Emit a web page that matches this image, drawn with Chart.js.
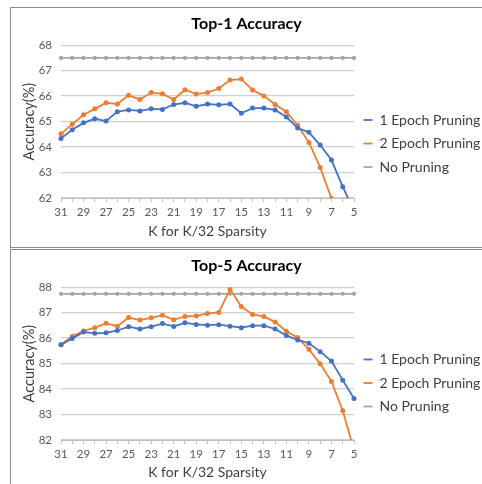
<!DOCTYPE html>
<html>
<head>
<meta charset="utf-8">
<script src="https://cdn.jsdelivr.net/npm/chart.js@4.4.0/dist/chart.umd.min.js"></script>
<style>
html, body { margin: 0; padding: 0; background: #fff; width: 482px; height: 484px; overflow: hidden; }
.box { position: absolute; left: 10px; width: 480px; border: 1px solid #8a8a8a; }
.box canvas { position: absolute; left: 0; top: 0; }
</style>
</head>
<body>
<div class="box" style="top:7px;height:239px"><canvas id="top1" width="471" height="239"></canvas></div>
<div class="box" style="top:249px;height:240px"><canvas id="top5" width="471" height="234"></canvas></div>
<script>
// K for K/32 sparsity
const kLabels = [31, 30, 29, 28, 27, 26, 25, 24, 23, 22, 21, 20, 19, 18, 17, 16, 15, 14, 13, 12, 11, 10, 9, 8, 7, 6, 5];

const top1Epoch1 = [64.34, 64.68, 64.95, 65.11, 65.02, 65.39, 65.46, 65.42, 65.50, 65.48, 65.67, 65.74, 65.60, 65.69,
  65.66, 65.69, 65.33, 65.53, 65.53, 65.46, 65.18, 64.75, 64.58, 64.08, 63.49, 62.44, 61.5];
const top1Epoch2 = [64.52, 64.90, 65.27, 65.50, 65.74, 65.69, 66.03, 65.87, 66.14, 66.09, 65.87, 66.25, 66.08, 66.14,
  66.30, 66.63, 66.67, 66.24, 66.01, 65.67, 65.39, 64.86, 64.18, 63.20, 61.98, 60.5, 58.5];
const top1None = [67.5, 67.5, 67.5, 67.5, 67.5, 67.5, 67.5, 67.5, 67.5, 67.5, 67.5, 67.5, 67.5, 67.5,
  67.5, 67.5, 67.5, 67.5, 67.5, 67.5, 67.5, 67.5, 67.5, 67.5, 67.5, 67.5, 67.5];

const top5Epoch1 = [85.74, 85.99, 86.24, 86.19, 86.21, 86.30, 86.45, 86.36, 86.45, 86.57, 86.46, 86.60, 86.54, 86.51,
  86.53, 86.47, 86.41, 86.49, 86.49, 86.36, 86.10, 85.93, 85.80, 85.47, 85.10, 84.35, 83.63];
const top5Epoch2 = [85.74, 86.07, 86.28, 86.41, 86.58, 86.47, 86.81, 86.71, 86.80, 86.90, 86.72, 86.85, 86.87, 86.97,
  87.01, 87.92, 87.24, 86.93, 86.85, 86.63, 86.27, 86.02, 85.56, 84.99, 84.30, 83.15, 81.6];
const top5None = [87.74, 87.74, 87.74, 87.74, 87.74, 87.74, 87.74, 87.74, 87.74, 87.74, 87.74, 87.74, 87.74, 87.74,
  87.74, 87.74, 87.74, 87.74, 87.74, 87.74, 87.74, 87.74, 87.74, 87.74, 87.74, 87.74, 87.74];

const seriesNames = ['1 Epoch Pruning', '2 Epoch Pruning', 'No Pruning'];
const seriesColors = ['#4472c4', '#ed7d31', '#a5a5a5'];

const FONT = 'Lato, "Open Sans", sans-serif';

// legend sits right of the plot, a bit below its middle (like Excel)
const legendFix = {
  id: 'legendFix',
  beforeLayout(chart) {
    const lg = chart.legend;
    if (!lg || lg._fixed) return;
    const fit = lg.fit.bind(lg), draw = lg.draw.bind(lg);
    lg.fit = function () { fit(); this.width = 128; };
    lg.draw = function (a) {
      this.top += 16; this.bottom += 16;
      draw(a);
      this.top -= 16; this.bottom -= 16;
    };
    lg._fixed = true;
  }
};

function makeChart(id, title, s1, s2, s3, yMin, yMax, xAxisH, xTitlePadBottom) {
  const sets = [s1, s2, s3].map((d, i) => ({
    label: seriesNames[i],
    data: d,
    borderColor: seriesColors[i],
    backgroundColor: seriesColors[i],
    borderWidth: 1.8,
    pointRadius: i == 2 ? 1.2 : 1.6,
    pointHoverRadius: 3,
    tension: 0,
  }));
  new Chart(document.getElementById(id), {
    type: 'line',
    data: { labels: kLabels, datasets: sets },
    plugins: [legendFix],
    options: {
      responsive: false,
      animation: false,
      layout: { padding: 0 },
      plugins: {
        title: {
          display: true, text: title, color: '#000',
          font: { family: FONT, size: 16, weight: 'bold' },
          padding: { top: 6, bottom: 12 },
        },
        legend: {
          position: 'right',
          labels: {
            usePointStyle: true, pointStyle: 'line', pointStyleWidth: 9,
            color: '#404040', font: { family: FONT, size: 14 }, padding: 9.5,
          },
        },
        tooltip: { enabled: false },
      },
      scales: {
        x: {
          offset: false,
          grid: { drawOnChartArea: false, drawTicks: true, tickLength: 4, color: '#bfbfbf' },
          border: { color: '#bfbfbf' },
          ticks: {
            autoSkip: false, maxRotation: 0, padding: 3,
            color: '#595959', font: { family: FONT, size: 11.5 },
            callback: (v, i) => (i % 2 == 0 ? kLabels[i] : ''),
          },
          title: {
            display: true, text: 'K for K/32 Sparsity', color: '#404040',
            font: { family: FONT, size: 14 }, padding: { top: 4, bottom: xTitlePadBottom },
          },
          afterFit: (s) => { s.height = xAxisH; },
        },
        y: {
          min: yMin, max: yMax,
          grid: { color: '#cfcfcf', lineWidth: 1.3, drawTicks: false },
          border: { display: false },
          ticks: { stepSize: 1, padding: 9, color: '#595959', font: { family: FONT, size: 11.5 } },
          title: {
            display: true, text: 'Accuracy(%)', color: '#404040',
            font: { family: FONT, size: 14.5 }, padding: { top: 10, bottom: 0 },
          },
          afterFit: (s) => { s.width = 50; },
        },
      },
    },
  });
}

makeChart('top1', 'Top-1 Accuracy', top1Epoch1, top1Epoch2, top1None, 62, 68, 49, 7.5);
makeChart('top5', 'Top-5 Accuracy', top5Epoch1, top5Epoch2, top5None, 82, 88, 44, 3);
</script>
</body>
</html>
